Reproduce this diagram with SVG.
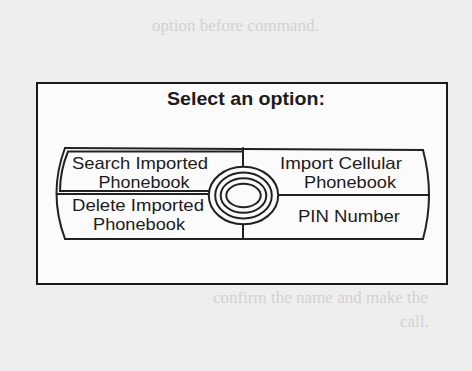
<svg xmlns="http://www.w3.org/2000/svg" width="472" height="371" viewBox="0 0 472 371">
<style>
.ln{fill:none;stroke:#222;stroke-width:2;stroke-linecap:round}
.t{font-family:"Liberation Sans",Arial,sans-serif;font-size:16.5px;fill:#1c1c1c;text-anchor:middle}
.ttl{font-family:"Liberation Sans",Arial,sans-serif;font-size:18.5px;font-weight:bold;fill:#1c1c1c;text-anchor:middle}
.ghost{font-family:"Liberation Serif","Times New Roman",serif;font-size:17px;fill:#d2d2d2}
</style>
<rect x="0" y="0" width="472" height="371" fill="#eeeeee"/>
<g id="bleed">
<text class="ghost" x="152" y="31">option before command.</text>
<text class="ghost" x="213" y="303">confirm the name and make the</text>
<text class="ghost" x="400" y="327">call.</text>
</g>
<g id="screen">
<rect x="37" y="83" width="410" height="201" fill="#fbfbfb" stroke="#1a1a1a" stroke-width="2"/>
<text class="ttl" x="246" y="105" textLength="158" lengthAdjust="spacingAndGlyphs">Select an option:</text>
</g>
<g id="connectors">
<path class="ln" d="M65,148 L423,150"/>
<path class="ln" d="M65,239 L423,239"/>
<path class="ln" d="M65,148 Q48,193 65,239"/>
<path class="ln" d="M423,150 Q435,195 423,239"/>
<path class="ln" d="M57,194 L209,194"/>
<path class="ln" d="M278,195 L428,195" stroke-width="2.4"/>
<path class="ln" d="M243,148 L243,167"/>
<path class="ln" d="M243,224 L243,239"/>
<path class="ln" d="M243,151.5 L68,151.5 Q60,171 60,191 L211,191" stroke-width="1.4"/>
</g>
<g id="dial">
<ellipse cx="243.5" cy="195.5" rx="34.7" ry="28.8" fill="#fbfbfb" stroke="#222" stroke-width="2"/>
<ellipse cx="243.5" cy="195.5" rx="28.3" ry="23" fill="none" stroke="#222" stroke-width="2"/>
<ellipse cx="243.5" cy="195.5" rx="22.8" ry="17.3" fill="none" stroke="#222" stroke-width="2"/>
<ellipse cx="243.5" cy="195.5" rx="17.2" ry="11.7" fill="none" stroke="#222" stroke-width="2"/>
</g>
<g id="search">
<text class="t" x="140" y="168.5" textLength="136" lengthAdjust="spacingAndGlyphs">Search Imported</text>
<text class="t" x="144" y="188" textLength="91" lengthAdjust="spacingAndGlyphs">Phonebook</text>
</g>
<g id="delete">
<text class="t" x="138" y="210.5" textLength="132" lengthAdjust="spacingAndGlyphs">Delete Imported</text>
<text class="t" x="139" y="230" textLength="92" lengthAdjust="spacingAndGlyphs">Phonebook</text>
</g>
<g id="import">
<text class="t" x="341" y="168.5" textLength="122" lengthAdjust="spacingAndGlyphs">Import Cellular</text>
<text class="t" x="350" y="188" textLength="92" lengthAdjust="spacingAndGlyphs">Phonebook</text>
</g>
<g id="pin">
<text class="t" x="349" y="222" textLength="102" lengthAdjust="spacingAndGlyphs">PIN Number</text>
</g>
</svg>
